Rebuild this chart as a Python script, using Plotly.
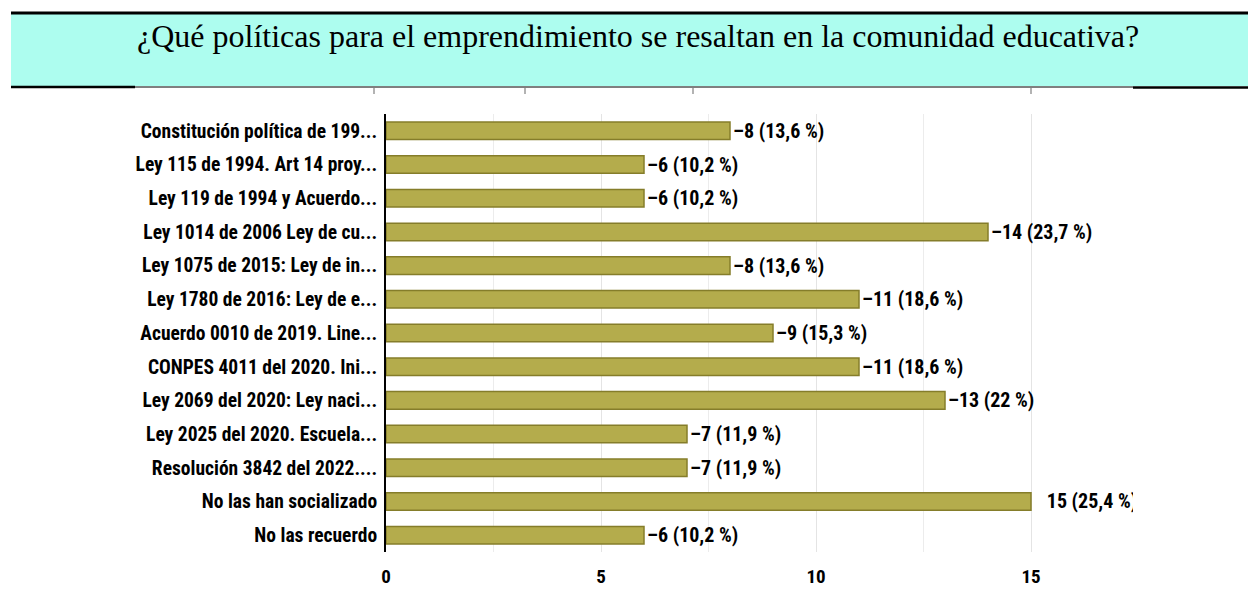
import plotly.graph_objects as go

# ---- data ----
categories = [
    "Constitución política de 199...",
    "Ley 115 de 1994. Art 14 proy...",
    "Ley 119 de 1994 y Acuerdo...",
    "Ley 1014 de 2006 Ley de cu...",
    "Ley 1075 de 2015: Ley de in...",
    "Ley 1780 de 2016: Ley de e...",
    "Acuerdo 0010 de 2019. Line...",
    "CONPES 4011 del 2020. Ini...",
    "Ley 2069 del 2020: Ley naci...",
    "Ley 2025 del 2020. Escuela...",
    "Resolución 3842 del 2022....",
    "No las han socializado",
    "No las recuerdo",
]
counts = [8, 6, 6, 14, 8, 11, 9, 11, 13, 7, 7, 15, 6]
percents = ["13,6", "10,2", "10,2", "23,7", "13,6", "18,6", "15,3",
            "18,6", "22", "11,9", "11,9", "25,4", "10,2"]
x_ticks = [0, 5, 10, 15]
title_text = "¿Qué políticas para el emprendimiento se resaltan en la comunidad educativa?"

max_count = max(counts)
labels = [
    ("\u2002\u2009%d (%s %%)" if c == max_count else "–%d (%s %%)") % (c, p)
    for c, p in zip(counts, percents)
]

# ---- layout geometry ----
W_PX, H_PX = 1248, 590
L, R, T, B = 386, 196, 114, 38
PW = W_PX - L - R
PH = H_PX - T - B


def px2x(px):
    return (px - L) / PW


def py2y(py):
    return (H_PX - B - py) / PH


narrow = "Liberation Sans Narrow, Arial Narrow, Roboto Condensed, sans-serif"

fig = go.Figure(
    go.Bar(
        x=counts,
        y=categories,
        orientation="h",
        width=0.52,
        marker=dict(color="#b4ac4c", line=dict(color="#857d2a", width=1.5)),
        text=labels,
        textposition="outside",
        textfont=dict(family=narrow, size=20, color="black", weight="bold"),
        cliponaxis=False,
        constraintext="none",
        hoverinfo="skip",
    )
)

shapes = [
    # cyan header cell
    dict(type="rect", xref="paper", yref="paper",
         x0=px2x(11), x1=px2x(1248), y0=py2y(86), y1=py2y(14),
         fillcolor="#adfdef", line=dict(width=0), layer="below"),
    # top border
    dict(type="line", xref="paper", yref="paper",
         x0=px2x(11), x1=px2x(1248), y0=py2y(13), y1=py2y(13),
         line=dict(color="black", width=3)),
    # bottom border pieces
    dict(type="line", xref="paper", yref="paper",
         x0=px2x(11), x1=px2x(135), y0=py2y(87), y1=py2y(87),
         line=dict(color="black", width=2.5)),
    dict(type="line", xref="paper", yref="paper",
         x0=px2x(135), x1=px2x(1133), y0=py2y(87), y1=py2y(87),
         line=dict(color="black", width=1)),
    dict(type="line", xref="paper", yref="paper",
         x0=px2x(1133), x1=px2x(1248), y0=py2y(87.5), y1=py2y(87.5),
         line=dict(color="black", width=2.5)),
    # white crop on the right edge of the embedded picture
    dict(type="rect", xref="paper", yref="paper",
         x0=px2x(1133), x1=px2x(1250), y0=py2y(592), y1=py2y(89),
         fillcolor="white", line=dict(width=0), layer="above"),
]
# small grey artefact ticks at the top of the picture
for tx in [374, 525, 693, 1031]:
    shapes.append(dict(type="line", xref="paper", yref="paper",
                       x0=px2x(tx), x1=px2x(tx), y0=py2y(88), y1=py2y(94),
                       line=dict(color="#9a9a9a", width=1.5)))

fig.update_layout(
    width=W_PX,
    height=H_PX,
    margin=dict(l=L, r=R, t=T, b=B, pad=0, autoexpand=False),
    paper_bgcolor="white",
    plot_bgcolor="white",
    showlegend=False,
    shapes=shapes,
    annotations=[
        dict(text=title_text, xref="paper", yref="paper",
             x=px2x(638), y=py2y(36), xanchor="center", yanchor="middle",
             showarrow=False,
             font=dict(family="Liberation Serif, Times New Roman, serif",
                       size=32, color="black")),
    ],
    xaxis=dict(
        range=[0, PW / 43.0],
        tickvals=x_ticks,
        ticktext=[str(v) for v in x_ticks],
        showgrid=True,
        gridcolor="#e4e4e4",
        gridwidth=1,
        minor=dict(dtick=2.5, showgrid=True, gridcolor="#ececec"),
        zeroline=False,
        showline=False,
        ticks="",
        ticklabelstandoff=11,
        automargin=False,
        tickfont=dict(family=narrow, size=19, color="black", weight="bold"),
        fixedrange=True,
    ),
    yaxis=dict(
        range=[12.5, -0.5],
        showgrid=False,
        zeroline=False,
        showline=True,
        linecolor="black",
        linewidth=2,
        ticks="",
        ticklabelstandoff=3,
        automargin=False,
        tickfont=dict(family=narrow, size=19.5, color="black", weight="bold"),
        fixedrange=True,
    ),
    bargap=0.48,
)

fig.write_html(
    "out.html",
    config={"displayModeBar": False},
    post_script="document.body.style.margin='0px';document.body.style.padding='0px';",
)
